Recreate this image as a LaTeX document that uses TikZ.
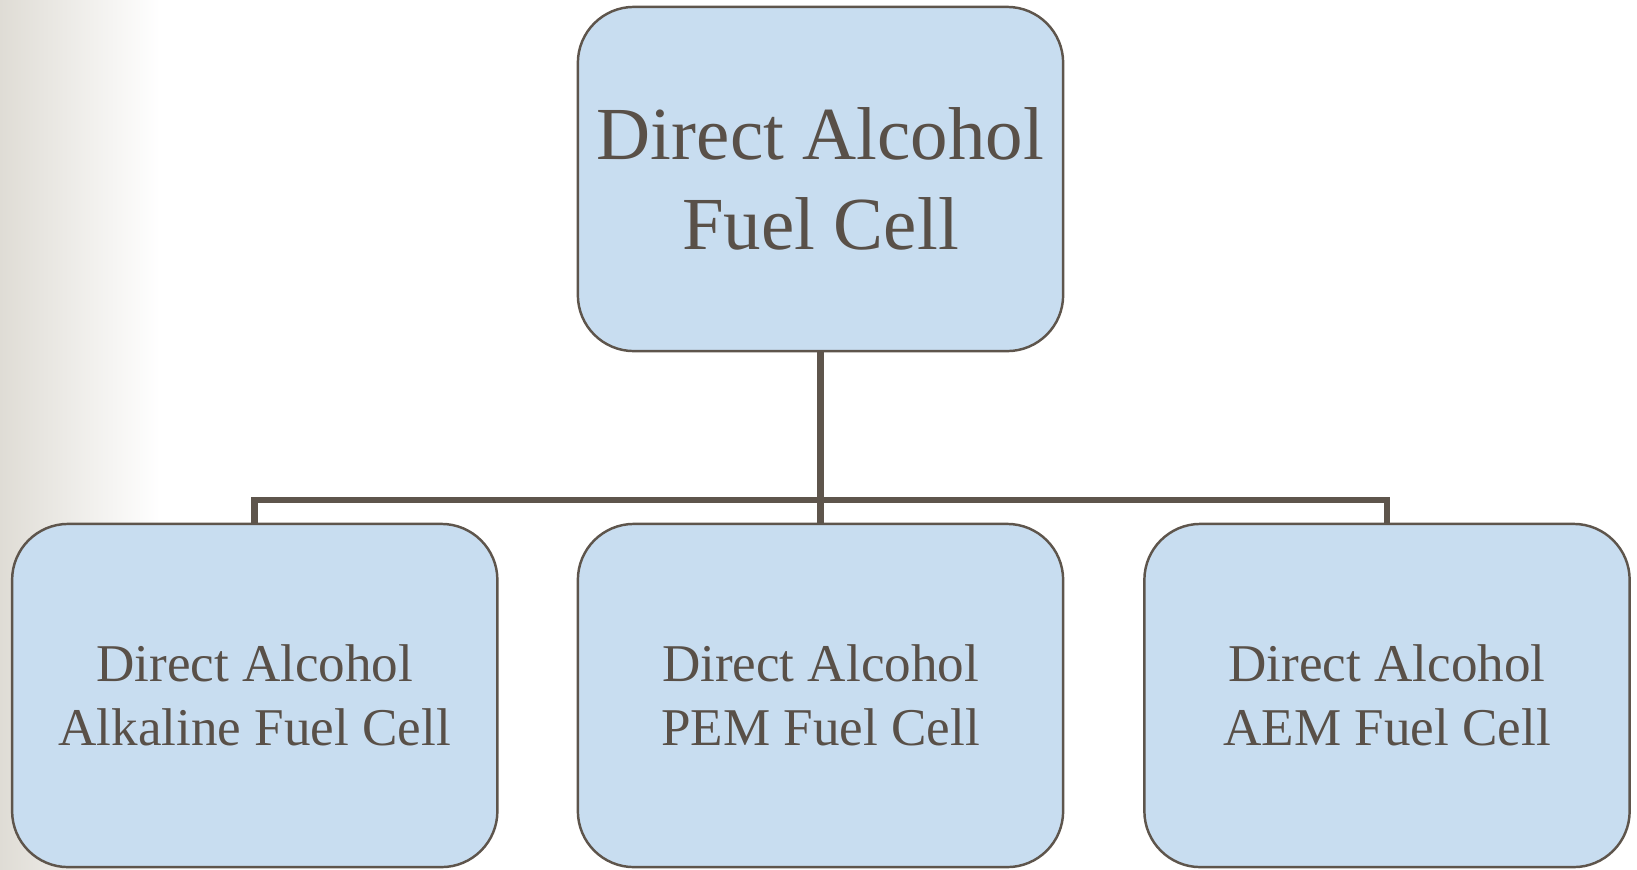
\documentclass[tikz,border=0pt]{standalone}
\usepackage{fontspec}
\setmainfont{Liberation Serif}
\usepackage{xcolor}
\usetikzlibrary{positioning, calc}
\definecolor{dafill}{HTML}{C8DDF0}
\definecolor{daline}{HTML}{5E554C}
\definecolor{datext}{HTML}{595048}
\definecolor{dashade}{HTML}{DFDCD5}

\begin{document}
\begin{tikzpicture}[
  x=0.01cm, y=-0.01cm,
  every node/.style={text=datext},
  topbox/.style={rectangle, draw=daline, fill=dafill, line width=0.7pt, rounded corners=0.56cm, minimum width=4.85cm, minimum height=3.44cm, align=center, font=\fontsize{21.3}{25.4}\selectfont},
  cellbox/.style={rectangle, draw=daline, fill=dafill, line width=0.7pt, rounded corners=0.56cm, minimum width=4.85cm, minimum height=3.43cm, align=center, font=\fontsize{15.1}{18.2}\selectfont},
  conn/.style={draw=daline, line width=1.9pt, line join=miter},
]
\useasboundingbox (0,0) rectangle (1637,869);

% slide background fade on the left
\shade[left color=dashade, right color=white, draw=none] (0,0) rectangle (160,869);

% Top: main type
\node[topbox] (dafc) at (820.5,179) {Direct Alcohol\hspace{0.4em}\\Fuel Cell};

% Bottom: three kinds
\node[cellbox] (alk) at (254.75,695.5) {Direct Alcohol\\Alkaline Fuel Cell};
\node[cellbox] (pem) at (820.5,695.5) {Direct Alcohol\\PEM Fuel Cell};
\node[cellbox] (aem) at (1387,695.5) {Direct Alcohol\\AEM Fuel Cell};

% connectors
\coordinate (bus) at (820.5,500);
\draw[conn] (dafc.south) -- (bus);
\draw[conn] (alk.north) |- (bus) -| (aem.north);
\draw[conn] (bus) -- (pem.north);

\end{tikzpicture}
\end{document}
